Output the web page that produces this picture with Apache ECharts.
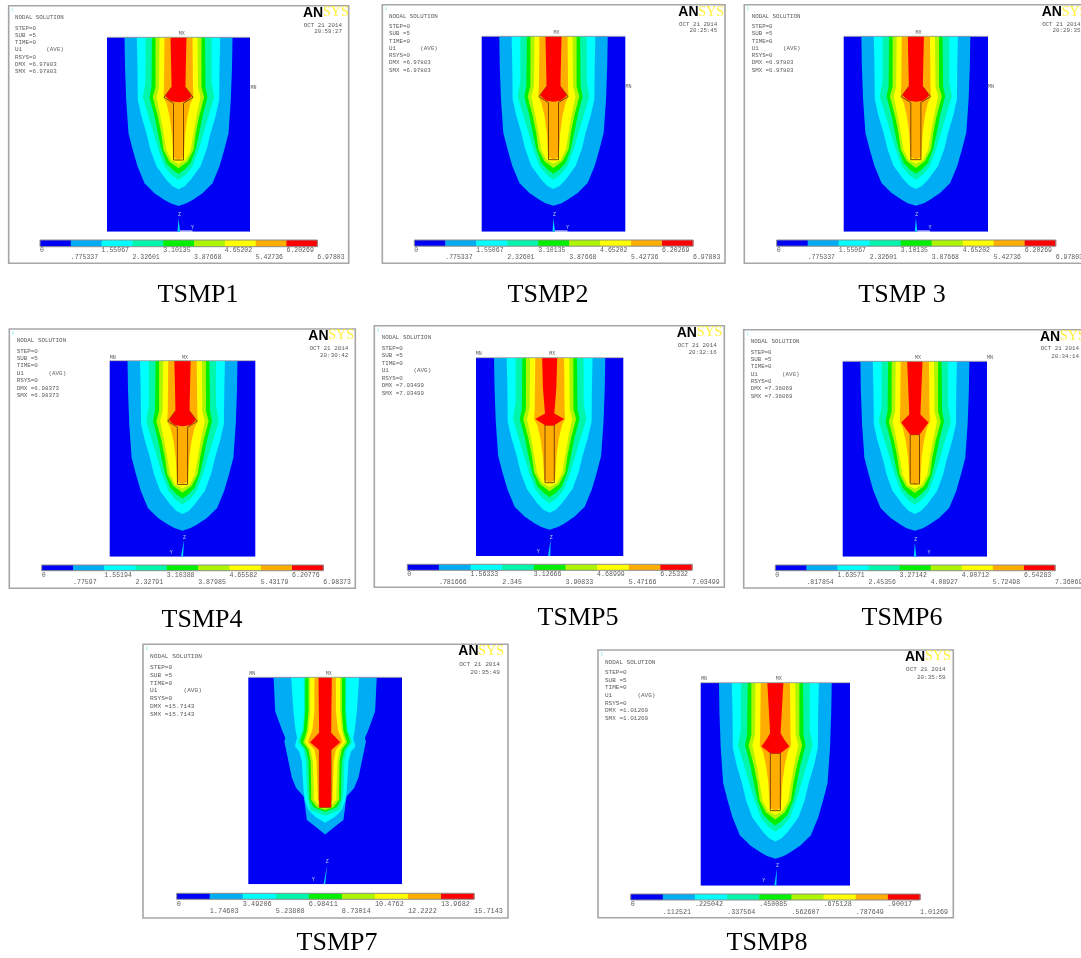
<!DOCTYPE html>
<html><head><meta charset="utf-8">
<script src="https://cdn.jsdelivr.net/npm/echarts@6/dist/echarts.min.js"></script>
<style>html,body{margin:0;padding:0;background:#fff}#c{width:1081px;height:958px;filter:blur(0.45px)}</style>
</head><body><div id="c"></div>
<script>
// ---- colour scale (nine contour bands)
const contourColors=['#0000F5','#00ADF5','#00FFFF','#00F5AD','#00F000','#ADF500','#FFFF00','#FFAD00','#FF0000'];

// ---- contour legend tick labels per figure
const ticksTSMP1=['0','.775337','1.55067','2.32601','3.10135','3.87668','4.65202','5.42736','6.20269','6.97803'];
const ticksTSMP2=ticksTSMP1, ticksTSMP3=ticksTSMP1;
const ticksTSMP4=['0','.77597','1.55194','2.32791','3.10388','3.87985','4.65582','5.43179','6.20776','6.98373'];
const ticksTSMP5=['0','.781666','1.56333','2.345','3.12666','3.90833','4.68999','5.47166','6.25332','7.03499'];
const ticksTSMP6=['0','.817854','1.63571','2.45356','3.27142','4.08927','4.90712','5.72498','6.54283','7.36069'];
const ticksTSMP7=['0','1.74603','3.49206','5.23808','6.98411','8.73014','10.4762','12.2222','13.9682','15.7143'];
const ticksTSMP8=['0','.112521','.225042','.337564','.450085','.562607','.675128','.787649','.90017','1.01269'];

// ---- contour boundaries: [depth, half width] in model units (194.4 deep, 143 wide)
const levelA1=[[0,54],[30,53.5],[62.7,52.3],[96,50],[112.7,45.7],[129,41],[146,34],[156,24],[162.7,14],[166,8],[168.7,0]];
const levelA2=[[0,41.7],[30,41],[62.7,40.7],[79,37],[96,32],[112.7,28],[129,22],[142.7,12],[149,6],[152,0]];
const levelA3=[[0,33],[45,33],[60,35.7],[79,30],[96,25],[112.7,20],[129,14],[137.7,7],[142.7,0]];
const levelA4=[[0,26.5],[50,27],[60,29],[79,24],[96,20.7],[112.7,17],[126,12],[132.7,5.7],[136.7,0]];
const levelA5=[[0,23],[50,23],[60,25.7],[79,20.7],[96,17.3],[112.7,15],[124.4,9],[131,0]];
const levelA6=[[0,19],[50,19.5],[60,22],[79,18],[96,15],[112.7,12.3],[122.7,7.3],[126.7,0]];
const levelA7=[[0,14],[50,14.5],[60,15],[66,12],[79,9],[96,6.7],[120,5.2],[122.7,0]];

const level71=[[0,48],[32,46.5],[50,40],[57,37],[60,38],[70,36],[94,31],[104,27],[112,20],[115,19.5],[134,17],[140,9.5],[147.6,0]];
const level72=[[0,31.6],[32,29.5],[50,27.5],[57,26],[62,27.5],[65,28],[70,24],[79,21.7],[107,20],[115,18.8],[124.6,15.5],[131,9.3],[136.5,0]];
const level73=[[0,20],[32,19.5],[50,21],[57,24],[61,25],[68,20],[79,18],[107,17],[115,16],[124.6,14],[130,0]];
const level74=[[0,18.6],[32,18.6],[50,20],[57,22.3],[61,23],[68,18],[79,15.5],[107,14.8],[115,14.5],[122,10.9],[126.5,0]];
const level75=[[0,15.5],[32,15.5],[50,17],[57,19],[61,20.5],[68,15.5],[79,13.5],[107,13],[115,13],[122,7.8],[124.6,0]];
const level76=[[0,14],[32,14],[50,15.5],[57,17.5],[61,18.5],[68,13.5],[79,11.5],[107,10.5],[115,10.5],[122,4.3],[123,0]];
const level77=[[0,10],[32,10],[50,12],[57,15],[61,16],[68,10],[79,8],[107,7],[115,6.8],[122,2.5],[122.4,0]];

// ---- top band (red) for each model
const coreA=[[0,8],[45,7],[50,7],[56,11.5],[59,13],[62,10],[64,7],[65,0]];
const coreB=[[0,7.3],[30,6.5],[54.6,4.5],[60,14],[66.3,4.5],[66.4,0]];
const coreC=[[0,7.6],[53,5.5],[61,13.5],[73,4.6],[73.1,0]];
const coreD=[[0,7.7],[48.5,5],[55,9],[61,13.4],[67.6,4.8],[67.7,0]];
const coreG=[[0,6.2],[52,5.6],[61,14],[68.6,5.4],[122,5.4],[122.1,0]];

// ---- embedded element outlines
const outlineA=[[50,7],[60,14.5],[66,5],[122.7,5],[122.8,0]];
const outlineB=[[66,4.5],[122.5,4.5],[122.6,0]];
const outlineC=[[73,4.6],[122,4.6],[122.1,0]];
const outlineD=[[67.6,4.8],[122.5,4.8],[122.6,0]];
const outlineG=[[68,5.4],[122,5.4],[122.1,0]];

const bandsA=[levelA1,levelA2,levelA3,levelA4,levelA5,levelA6,levelA7];
const bandsG=[level71,level72,level73,level74,level75,level76,level77];

// ---- text blocks
const solutionRows=['STEP=0','SUB =5','TIME=0','U1       (AVG)','RSYS=0'];

// ---- layout of the eight figures (pixels on the page)
const panels=[
{cap:'TSMP1',capX:198,capY:295,frame:[8.7,5.7,348.7,263.3],plot:[107,37.3,250,231.7],bar:[40,240,317.3,246.7],rows:[250.7,257.3],tx:15,ty:17.3,t0:28,ts:7.25,fs:5.8,logo:[303,12.7],dr:342,dy:[25,31.7],time:'20:59:27',mx:[181.7,34],mn:[253.5,87.7],ticks:ticksTSMP1,bands:bandsA,core:coreA,outline:outlineA,triad:{tip:[0,181],l:-1,r:1.5,white:true,z:[1,177.7],y:[14,190]}},
{cap:'TSMP2',capX:548,capY:295,frame:[382.3,4.7,725,263.3],plot:[481.7,36.3,625.3,231.7],bar:[414.3,240,693,246.2],rows:[250.5,257.3],tx:389,ty:16.3,t0:26.7,ts:7.25,fs:5.8,logo:[678.3,12],dr:717.3,dy:[24,30.7],time:'20:25:45',mx:[556.5,33],mn:[628.5,87],ticks:ticksTSMP2,bands:bandsA,core:coreA,outline:outlineA,triad:{tip:[0,181],l:-1,r:1.5,white:true,z:[1,177.7],y:[14,190]}},
{cap:'TSMP 3',capX:902,capY:295,frame:[744.3,4.7,1090,263.3],plot:[843.7,36.3,988,231.7],bar:[776.7,240,1055.7,246.2],rows:[250.5,257.3],tx:751.7,ty:16,t0:26.7,ts:7.25,fs:5.8,logo:[1041.7,12],dr:1080.4,dy:[24,30.7],time:'20:29:35',mx:[918.5,33],mn:[991,87],ticks:ticksTSMP3,bands:bandsA,core:coreA,outline:outlineA,triad:{tip:[0,181],l:-1,r:1.5,white:true,z:[1,177.7],y:[14,190]}},
{cap:'TSMP4',capX:202,capY:620,frame:[9.3,329,355.3,588.3],plot:[109.7,360.7,255.3,556.7],bar:[41.7,565,323.3,570.7],rows:[575.3,582],tx:16.7,ty:340,t0:351,ts:7.4,fs:5.9,logo:[308.3,335.7],dr:348.3,dy:[348,355.7],time:'20:30:42',mx:[185,357.3],mn:[112.7,357.3],ticks:ticksTSMP4,bands:bandsA,core:coreA,outline:outlineA,triad:{tip:[1.5,178],l:-1.5,r:0.5,white:false,z:[2,176],y:[-11,190]}},
{cap:'TSMP5',capX:578,capY:618,frame:[374.3,325.7,724.3,587.3],plot:[476,357.7,623.3,556],bar:[407.3,564.3,692,570.3],rows:[574.5,582],tx:381.7,ty:337.3,t0:348.3,ts:7.45,fs:5.9,logo:[676.7,332.7],dr:716.7,dy:[345.7,352.3],time:'20:32:16',mx:[552.3,354],mn:[478.7,354],ticks:ticksTSMP5,bands:bandsA,core:coreB,outline:outlineB,triad:{tip:[1,178],l:-1.5,r:0.5,white:false,z:[1.5,176],y:[-11,190]}},
{cap:'TSMP6',capX:902,capY:618,frame:[743.7,329.7,1090,588],plot:[842.7,361.3,987,556.7],bar:[775.3,565,1055,570.7],rows:[575.3,582],tx:750.7,ty:341,t0:352,ts:7.33,fs:5.8,logo:[1040,336.7],dr:1079,dy:[348.7,356.3],time:'20:34:14',mx:[918,358],mn:[990,358],ticks:ticksTSMP6,bands:bandsA,core:coreC,outline:outlineC,triad:{tip:[0,181],l:-1,r:1.5,white:false,z:[1,177.7],y:[14,190]}},
{cap:'TSMP7',capX:337,capY:943,frame:[143,644.3,508,918],plot:[248.3,677.3,402,884.3],bar:[176.7,893.3,474,899.3],rows:[904,911],tx:150,ty:656,t0:667.3,ts:7.8,fs:6.2,logo:[458.3,651.3],dr:500,dy:[664,672],time:'20:35:49',mx:[328.7,673.3],mn:[252.3,673.3],ticks:ticksTSMP7,bands:bandsG,core:coreG,outline:outlineG,triad:{tip:[2,176],l:-1.5,r:0,white:false,z:[2,173],y:[-11,190]}},
{cap:'TSMP8',capX:767,capY:943,frame:[598,650,953.3,917.7],plot:[700.7,682.7,850,885.7],bar:[630.7,894,920,900],rows:[904.3,912],tx:605,ty:662,t0:672.3,ts:7.67,fs:6,logo:[905,656.7],dr:945.7,dy:[669.3,677.3],time:'20:35:59',mx:[778.7,679],mn:[704,679],ticks:ticksTSMP8,bands:bandsA,core:coreD,outline:outlineD,triad:{tip:[1.5,178],l:-1,r:1,white:false,z:[2,175],y:[-11,190]}}
];

const mono='"Liberation Mono","DejaVu Sans Mono",monospace';
const grey='#5c5c5c';
const mirror=(p,api)=>{
  const pts=[];
  p.forEach(d=>pts.push(api.coord([d[1],d[0]])));
  for(let i=p.length-1;i>=0;i--)pts.push(api.coord([-p[i][1],p[i][0]]));
  return pts;
};
const grids=[],xAxes=[],yAxes=[],series=[],graphic=[];
const rectGrid=r=>({left:r[0],top:r[1],width:r[2]-r[0],height:r[3]-r[1],show:false,containLabel:false,outerBoundsMode:'none'});
const text=(t,x,y,font,fill,align)=>({type:'text',silent:true,x,y,z:20,style:{text:t,font,fill,align:align||'left',verticalAlign:'middle'}});

panels.forEach(p=>{
  const f=p.frame;
  graphic.push({type:'rect',silent:true,z:0,shape:{x:f[0],y:f[1],width:f[2]-f[0],height:f[3]-f[1]},style:{fill:'#fff',stroke:'#a6a6a6',lineWidth:1.6}});
  graphic.push({type:'rect',silent:true,z:1,shape:{x:f[0]+3,y:f[1]+2,width:1.5,height:4},style:{fill:'#bff5f5'}});
  // plot
  const gp=grids.length; grids.push(rectGrid(p.plot));
  const xp=xAxes.length; xAxes.push({type:'value',gridIndex:gp,min:-71.5,max:71.5,show:false});
  const yp=yAxes.length; yAxes.push({type:'value',gridIndex:gp,min:0,max:194.4,inverse:true,show:false});
  const layers=[{fill:contourColors[0],full:true}];
  p.bands.forEach((b,i)=>layers.push({fill:contourColors[i+1],poly:b}));
  layers.push({stroke:'#6b3a00',poly:p.outline});
  layers.push({fill:contourColors[8],poly:p.core});
  layers.push({triad:p.triad});
  series.push({type:'custom',xAxisIndex:xp,yAxisIndex:yp,clip:true,silent:true,animation:false,
    data:layers.map((l,i)=>[0,0,i]),
    renderItem:(params,api)=>{
      const l=layers[api.value(2)];
      if(l.full){const a=api.coord([-71.5,0]),b=api.coord([71.5,194.4]);
        return {type:'rect',shape:{x:a[0],y:a[1],width:b[0]-a[0],height:b[1]-a[1]},style:{fill:l.fill}};}
      if(l.triad){const t=l.triad;const ch=[
        {type:'polygon',shape:{points:[api.coord([t.tip[0],t.tip[1]]),api.coord([t.l,194.4]),api.coord([t.r,194.4])]},style:{fill:'#00d8ff'}}];
        if(t.white)ch.push({type:'polygon',shape:{points:[api.coord([t.r,193.2]),api.coord([14,193.2]),api.coord([14,194.4]),api.coord([t.r,194.4])]},style:{fill:'#fff'}});
        [['Z',t.z],['Y',t.y]].forEach(a=>{const q=api.coord(a[1]);ch.push({type:'text',x:q[0],y:q[1],style:{text:a[0],font:'5px '+mono,fill:'#b8d8e8',align:'center',verticalAlign:'middle'}});});
        return {type:'group',children:ch};}
      const pts=mirror(l.poly,api);
      return l.stroke?{type:'polygon',shape:{points:pts},style:{fill:'none',stroke:l.stroke,lineWidth:0.9}}
                     :{type:'polygon',shape:{points:pts},style:{fill:l.fill}};
    }});
  graphic.push({type:'line',silent:true,z:30,shape:{x1:p.plot[0],y1:p.plot[1],x2:p.plot[2],y2:p.plot[1]},style:{stroke:'#9a9a9a',lineWidth:0.8}});
  // legend bar
  const vals=p.ticks.map(Number), last=vals[vals.length-1];
  const gb=grids.length; grids.push(rectGrid(p.bar));
  const fmt=v=>{let k=0,d=1e9;vals.forEach((u,i)=>{const e=Math.abs(u-v);if(e<d){d=e;k=i;}});return p.ticks[k];};
  const xb=xAxes.length;
  const lblFs=p.fs+0.7;
  [0,1].forEach(row=>{
    xAxes.push({type:'value',gridIndex:gb,min:0,max:last,position:'bottom',
      axisLine:{show:false},axisTick:{show:false},splitLine:{show:false},
      axisLabel:{show:true,customValues:vals.filter((v,i)=>i%2===row),formatter:fmt,align:'left',verticalAlign:'middle',
        margin:p.rows[row]-p.bar[3],fontFamily:mono,fontSize:lblFs,color:grey,hideOverlap:false,showMinLabel:true,showMaxLabel:true}});
  });
  const yb=yAxes.length; yAxes.push({type:'value',gridIndex:gb,min:0,max:1,show:false});
  series.push({type:'custom',xAxisIndex:xb,yAxisIndex:yb,silent:true,animation:false,
    data:contourColors.map((c,i)=>[vals[i],vals[i+1],i]),
    renderItem:(params,api)=>{
      const a=api.coord([api.value(0),1]),b=api.coord([api.value(1),0]);
      return {type:'rect',shape:{x:a[0],y:a[1],width:b[0]-a[0]+0.5,height:b[1]-a[1]},style:{fill:contourColors[api.value(2)]}};
    }});
  graphic.push({type:'rect',silent:true,z:30,shape:{x:p.bar[0],y:p.bar[1],width:p.bar[2]-p.bar[0],height:p.bar[3]-p.bar[1]},style:{fill:'none',stroke:'#8c8c8c',lineWidth:1}});
  // ANSYS text
  const font=p.fs+'px '+mono;
  graphic.push(text('NODAL SOLUTION',p.tx,p.ty,font,grey));
  const dmx='DMX ='+p.ticks[9], smx='SMX ='+p.ticks[9];
  solutionRows.concat([dmx,smx]).forEach((s,i)=>graphic.push(text(s,p.tx,p.t0+i*p.ts,font,grey)));
  graphic.push(text('OCT 21 2014',p.dr,p.dy[0],font,grey,'right'));
  graphic.push(text(p.time,p.dr,p.dy[1],font,grey,'right'));
  graphic.push(text('MX',p.mx[0],p.mx[1],'5px '+mono,grey,'center'));
  graphic.push(text('MN',p.mn[0],p.mn[1],'5px '+mono,grey,'center'));
  graphic.push(text('AN',p.logo[0],p.logo[1],'bold 14px "Liberation Sans",sans-serif','#000'));
  graphic.push(text('SYS',p.logo[0]+20,p.logo[1],'14px "Liberation Serif",serif','#FFF03A'));
  graphic.push(text(p.cap,p.capX,p.capY,'26px "Liberation Serif",serif','#000','center'));
});

const chart=echarts.init(document.getElementById('c'),null,{renderer:'canvas'});
chart.setOption({animation:false,backgroundColor:'#fff',tooltip:{show:false},grid:grids,xAxis:xAxes,yAxis:yAxes,series,graphic});
</script></body></html>
